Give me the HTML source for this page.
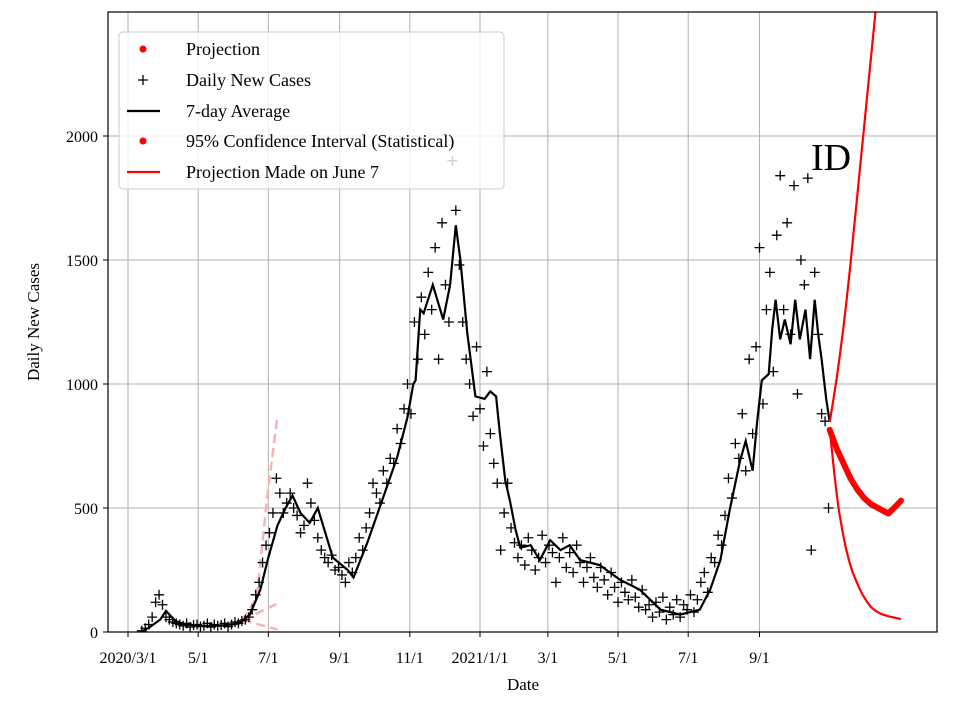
<!DOCTYPE html>
<html><head><meta charset="utf-8"><style>
body{margin:0;background:#fff}
svg text{font-family:"Liberation Serif",serif;fill:#000}
</style></head><body>
<svg id="chart" width="960" height="720" xmlns="http://www.w3.org/2000/svg">
<rect width="960" height="720" fill="#fff"/>
<g id="grid"></g>
<g id="plot"></g>
<g id="axes"></g>
</svg>
<script>
const avgDays=[13,19,28,33,41,50,63,80,97,106,115,122,130,137,143,150,158,165,178,191,196,208,222,234,243,248,250,254,257,265,274,280,285,289,295,302,310,315,320,323,328,332,337,341,350,358,367,376,384,393,410,428,445,463,480,497,506,515,523,532,537,543,547,551,557,560,563,567,571,576,580,584,589,593,597,600,603,607,610];
const avgVals=[5,20,50,85,45,30,25,25,35,70,170,300,430,500,550,480,440,500,300,250,220,360,545,705,866,1000,1015,1300,1285,1400,1260,1400,1640,1500,1205,950,940,970,950,815,610,530,410,340,350,290,370,330,350,290,270,210,170,90,70,90,170,290,490,690,770,650,850,1015,1040,1220,1340,1180,1260,1160,1340,1180,1300,1100,1340,1200,1100,940,847];
const caseStart=12, caseStep=3;
const cases=[5,15,30,60,120,150,110,60,50,40,35,
30,25,35,20,28,30,22,25,35,20,30,25,28,35,22,30,40,35,45,
50,60,90,150,200,280,350,400,480,620,560,480,520,
560,500,470,400,430,600,520,450,380,330,300,280,310,
250,260,230,200,280,240,300,380,330,420,480,600,560,
520,650,600,700,680,820,760,900,1000,880,1250,1100,1350,
1200,1450,1300,1550,1100,1650,1400,1250,1900,1700,1480,1250,1100,
1000,870,1150,900,750,1050,800,680,600,330,480,600,420,
360,300,350,270,380,330,250,300,390,280,350,320,200,
300,380,260,320,240,350,280,200,260,300,220,180,260,
210,150,240,180,120,200,160,130,210,140,100,170,90,
110,60,120,80,140,50,100,70,130,60,110,90,150,
80,130,200,240,160,300,280,390,350,470,620,540,760,
700,880,650,1100,800,1150,1550,920,1300,1450,1050,1600,1840,
1300,1650,1200,1800,960,1500,1400,1830,330,1450,1200,880,850,500];
const projDays=[610,616,622,628,634,640,646,652,658,661,665,669,672];
const projVals=[815,740,680,620,575,540,515,500,485,478,495,515,530];
const ciUpDays=[610,613,616,619,622,625,628,631,634,637,640,643,646,649,652,655];
const ciUpVals=[847,930,1020,1120,1230,1350,1480,1620,1760,1900,2040,2180,2320,2460,2600,2740];
const ciLoDays=[610,612,614,616,618,621,624,627,630,634,638,642,646,650,655,662,672];
const ciLoVals=[815,730,640,560,490,410,340,285,240,195,155,125,100,85,72,62,52];
const earlyUpDays=[100,112,121,130];
const earlyUpVals=[48,140,545,870];
const earlyMidDays=[100,130];
const earlyMidVals=[48,115];
const earlyLoDays=[100,130];
const earlyLoVals=[48,10];
const yTicks=[0,500,1000,1500,2000];
const xTickDays=[0,61,122,184,245,306,365,426,487,549];
const xTickLabels=["2020/3/1","5/1","7/1","9/1","11/1","2021/1/1","3/1","5/1","7/1","9/1"];

const L=108,R=937,T=12,B=632;
const X=d=>128+d*1.1503;
const Y=v=>B-v*0.248;
const NS="http://www.w3.org/2000/svg";
function mk(tag,parent,attrs){const e=document.createElementNS(NS,tag);for(const k in attrs)e.setAttribute(k,attrs[k]);parent.appendChild(e);return e;}
const grid=document.getElementById('grid'),plot=document.getElementById('plot'),axes=document.getElementById('axes');
yTicks.forEach(v=>{
  const g=mk('line',grid,{x1:L,x2:R,y1:Y(v),y2:Y(v),stroke:'#b0b0b0','stroke-width':1});
  
  
  mk('line',axes,{x1:L-5,x2:L,y1:Y(v),y2:Y(v),stroke:'#000'});
  const t=mk('text',axes,{x:L-10,y:Y(v)+6,'text-anchor':'end','font-size':16});
  t.textContent=v;
  
  
});
xTickDays.forEach((d,i)=>{
  const g=mk('line',grid,{x1:X(d),x2:X(d),y1:T,y2:B,stroke:'#b0b0b0','stroke-width':1});
  
  
  mk('line',axes,{x1:X(d),x2:X(d),y1:B,y2:B+5,stroke:'#000'});
  const t=mk('text',axes,{x:X(d),y:663,'text-anchor':'middle','font-size':16});
  t.textContent=xTickLabels[i];
  
  
});
function path(ds,vs){return ds.map((d,i)=>(i?'L':'M')+X(d).toFixed(1)+','+Y(vs[i]).toFixed(1)).join('');}
const clip=mk('clipPath',plot,{id:'pc'});mk('rect',clip,{x:L,y:T,width:R-L,height:B-T});
const pg=mk('g',plot,{'clip-path':'url(#pc)'});
[[earlyUpDays,earlyUpVals],[earlyMidDays,earlyMidVals],[earlyLoDays,earlyLoVals]].forEach(([d,v])=>{
  const p=mk('path',pg,{d:path(d,v),fill:'none',stroke:'#f7b3b3','stroke-width':2.5,'stroke-dasharray':'9,5'});
  
  
});
cases.forEach((v,i)=>{
  const x=X(caseStart+i*caseStep),y=Y(v);
  const p=mk('path',pg,{d:`M${x-5},${y}h10M${x},${y-5}v10`,stroke:'#000','stroke-width':1.3});
  
  
});
const avg=mk('path',pg,{d:path(avgDays,avgVals),fill:'none',stroke:'#000','stroke-width':2.2});


[[ciUpDays,ciUpVals],[ciLoDays,ciLoVals]].forEach(([d,v])=>{
  const p=mk('path',pg,{d:path(d,v),fill:'none',stroke:'#f00','stroke-width':2.2,'stroke-linejoin':'round'});
  
  
});
const pj=mk('path',pg,{d:path(projDays,projVals),fill:'none',stroke:'#f00','stroke-width':6,'stroke-linecap':'round','stroke-linejoin':'round'});


mk('rect',axes,{x:L,y:T,width:R-L,height:B-T,fill:'none',stroke:'#000','stroke-width':1.2});
</script>
<svg style="position:absolute;left:0;top:0" width="960" height="720">
<g>
<rect x="119" y="32" width="385" height="157" rx="4" fill="#fff" fill-opacity="0.8" stroke="#ccc"/>
<circle cx="143" cy="49" r="3.5" fill="#f00"/><text x="186" y="55" font-size="18">Projection</text>
<path d="M138,80h10M143,75v10" stroke="#000" stroke-width="1.3"/><text x="186" y="86" font-size="18">Daily New Cases</text>
<line x1="127" x2="160" y1="111" y2="111" stroke="#000" stroke-width="2.2"/><text x="186" y="117" font-size="18">7-day Average</text>
<circle cx="143" cy="141" r="3.5" fill="#f00"/><text x="186" y="147" font-size="18">95% Confidence Interval (Statistical)</text>
<line x1="127" x2="160" y1="172" y2="172" stroke="#f00" stroke-width="2.2"/><text x="186" y="178" font-size="18">Projection Made on June 7</text>
</g>
<text x="811" y="170" font-size="38" font-family="Liberation Serif,serif">ID</text>
<text x="523" y="690" font-size="17" text-anchor="middle" font-family="Liberation Serif,serif">Date</text>
<text transform="translate(39,322) rotate(-90)" font-size="17" text-anchor="middle" font-family="Liberation Serif,serif">Daily New Cases</text>
</svg>
</body></html>
